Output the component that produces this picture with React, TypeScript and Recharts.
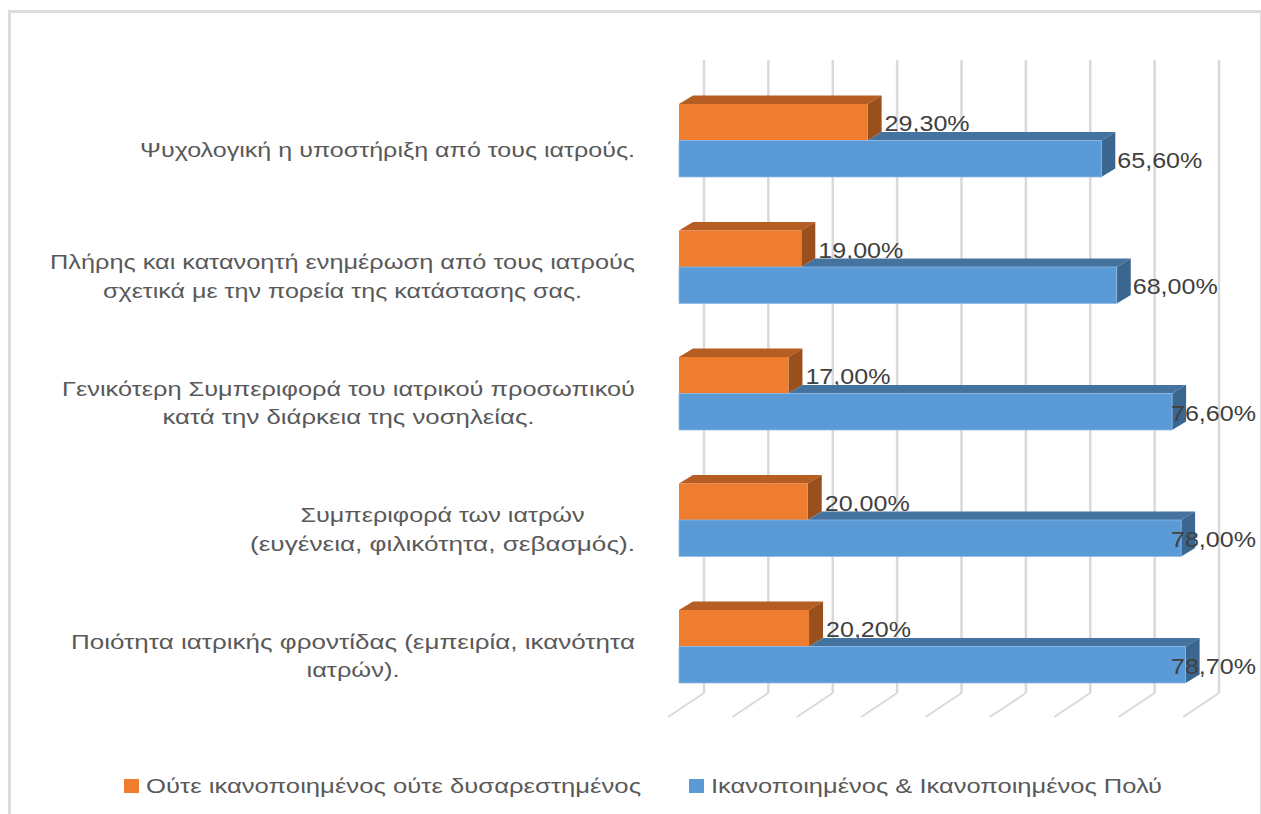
import { Bar, BarChart, CartesianGrid, XAxis, YAxis } from 'recharts';

const categoryLines = [
  ['Ψυχολογική η υποστήριξη από τους ιατρούς.'],
  ['Πλήρης και κατανοητή ενημέρωση από τους ιατρούς', 'σχετικά με την πορεία της κατάστασης σας.'],
  ['Γενικότερη Συμπεριφορά του ιατρικού προσωπικού', 'κατά την διάρκεια της νοσηλείας.'],
  ['Συμπεριφορά των ιατρών', '(ευγένεια, φιλικότητα, σεβασμός).'],
  ['Ποιότητα ιατρικής φροντίδας (εμπειρία, ικανότητα', 'ιατρών).'],
];
const neutralValues = [29.3, 19, 17, 20, 20.2];
const satisfiedValues = [65.6, 68, 76.6, 78, 78.7];
const valueTicks = [0, 10, 20, 30, 40, 50, 60, 70, 80];
const neutralName = 'Ούτε ικανοποιημένος ούτε δυσαρεστημένος';
const satisfiedName = 'Ικανοποιημένος & Ικανοποιημένος Πολύ';

// rendered widths of the wrapped category lines, same order as categoryLines
const categoryLineWidths = [[495], [585, 479], [573, 372], [284, 385], [564, 93]];

const chartData = categoryLines.map((lines, i) => ({
  id: String(i),
  neutral: neutralValues[i],
  satisfied: satisfiedValues[i],
}));

const FONT = '"Liberation Sans", Arial, sans-serif';
const DEPTH_X = 14;
const DEPTH_Y = 8.5;
const LABEL_RIGHT_LIMIT = 1171;
const LABEL_WIDTH = 85;

const formatPercent = (value: number) => `${value.toFixed(2).replace('.', ',')}%`;

function pts(...coords: number[][]) {
  return coords.map((c) => c.join(',')).join(' ');
}

function ValueText({ x, y, value }: { x: number; y: number; value: number }) {
  return (
    <text
      x={x}
      y={y + 9}
      fontFamily={FONT}
      fontSize={22}
      fill="#404040"
      textLength={LABEL_WIDTH}
      lengthAdjust="spacingAndGlyphs"
    >
      {formatPercent(value)}
    </text>
  );
}

// orange box: front, top and right faces, value label next to the side face
function NeutralBar(props: any) {
  const { x, y, width, height, value } = props;
  const right = x + width;
  const labelValue = Array.isArray(value) ? value[1] : value;
  return (
    <g>
      <polygon points={pts([x, y], [x + DEPTH_X, y - DEPTH_Y], [right + DEPTH_X, y - DEPTH_Y], [right, y])} fill="#b55d22" />
      <polygon
        points={pts([right, y], [right + DEPTH_X, y - DEPTH_Y], [right + DEPTH_X, y + height - DEPTH_Y], [right, y + height])}
        fill="#99501c"
      />
      <rect x={x} y={y} width={width} height={height} fill="#ef7d30" />
      <ValueText x={right + 17} y={y + height / 2} value={labelValue} />
    </g>
  );
}

// blue box: its top face only shows past the end of the orange box in front of it
function SatisfiedBar(props: any) {
  const { x, y, width, height, value, payload } = props;
  const right = x + width;
  const labelValue = Array.isArray(value) ? value[1] : value;
  const topStart = x + (width * payload.neutral) / payload.satisfied;
  return (
    <g>
      <polygon
        points={pts([topStart, y], [topStart + DEPTH_X, y - DEPTH_Y], [right + DEPTH_X, y - DEPTH_Y], [right, y])}
        fill="#44739f"
      />
      <polygon
        points={pts([right, y], [right + DEPTH_X, y - DEPTH_Y], [right + DEPTH_X, y + height - DEPTH_Y], [right, y + height])}
        fill="#3a6690"
      />
      <rect x={x} y={y} width={width} height={height} fill="#5a9ad6" stroke="#8dbbe6" strokeWidth={0.75} />
      <ValueText x={Math.min(right + 16, LABEL_RIGHT_LIMIT)} y={y + height / 2} value={labelValue} />
    </g>
  );
}

function CategoryTick(props: any) {
  const { y, index } = props;
  const lines = categoryLines[index];
  const widths = categoryLineWidths[index];
  const center = 635 - Math.max(...widths) / 2;
  return (
    <g>
      {lines.map((line, i) => (
        <text
          key={line}
          x={center}
          y={y + 16.5 + (i - (lines.length - 1) / 2) * 28.5}
          textAnchor="middle"
          fontFamily={FONT}
          fontSize={20}
          fill="#595959"
          textLength={widths[i]}
          lengthAdjust="spacingAndGlyphs"
        >
          {line}
        </text>
      ))}
    </g>
  );
}

// slanted floor line of the 3D box, running from the front edge to the back wall
function FloorTick(props: any) {
  const { x } = props;
  return <line x1={x - 11} y1={717} x2={x + 25} y2={693} stroke="#d9d9d9" strokeWidth={2} />;
}

function LegendRow() {
  const items = [
    { name: neutralName, fill: '#ef7d30', x: 124, textX: 146, textWidth: 495 },
    { name: satisfiedName, fill: '#5a9ad6', x: 689, textX: 711, textWidth: 451 },
  ];
  return (
    <g>
      {items.map((item) => (
        <g key={item.name}>
          <rect x={item.x} y={779} width={15} height={14} fill={item.fill} />
          <text
            x={item.textX}
            y={793}
            fontFamily={FONT}
            fontSize={20}
            fill="#595959"
            textLength={item.textWidth}
            lengthAdjust="spacingAndGlyphs"
          >
            {item.name}
          </text>
        </g>
      ))}
    </g>
  );
}

export default function App() {
  return (
    <div style={{ position: 'absolute', left: 0, top: 0, width: 1261, height: 814, background: '#fff', overflow: 'hidden' }}>
      <div
        style={{
          position: 'absolute',
          left: 8,
          top: 10,
          width: 1249,
          height: 810,
          borderLeft: '3px solid #dcdcdc',
          borderTop: '3px solid #dcdcdc',
          borderRight: '1px solid #dcdcdc',
        }}
      />
      <BarChart
        width={1261}
        height={814}
        data={chartData}
        layout="vertical"
        margin={{ top: 77, right: 67, bottom: 0, left: 0 }}
        barSize={36.5}
        barGap={0}
        style={{ position: 'absolute', left: 0, top: 0 }}
      >
        <CartesianGrid
          horizontal={false}
          y={60}
          height={633}
          stroke="#d9d9d9"
          strokeWidth={2.5}
          verticalCoordinatesGenerator={({ offset }: any) =>
            valueTicks.map((t) => offset.left + (t / 80) * offset.width + 25)
          }
        />
        <XAxis
          type="number"
          domain={[0, 80]}
          ticks={valueTicks}
          axisLine={false}
          tickLine={false}
          height={104.5}
          tick={<FloorTick />}
          interval={0}
        />
        <YAxis type="category" dataKey="id" width={679} axisLine={false} tickLine={false} tick={<CategoryTick />} interval={0} />
        <Bar dataKey="neutral" name={neutralName} shape={<NeutralBar />} isAnimationActive={false} />
        <Bar dataKey="satisfied" name={satisfiedName} shape={<SatisfiedBar />} isAnimationActive={false} />
        <LegendRow />
      </BarChart>
    </div>
  );
}
